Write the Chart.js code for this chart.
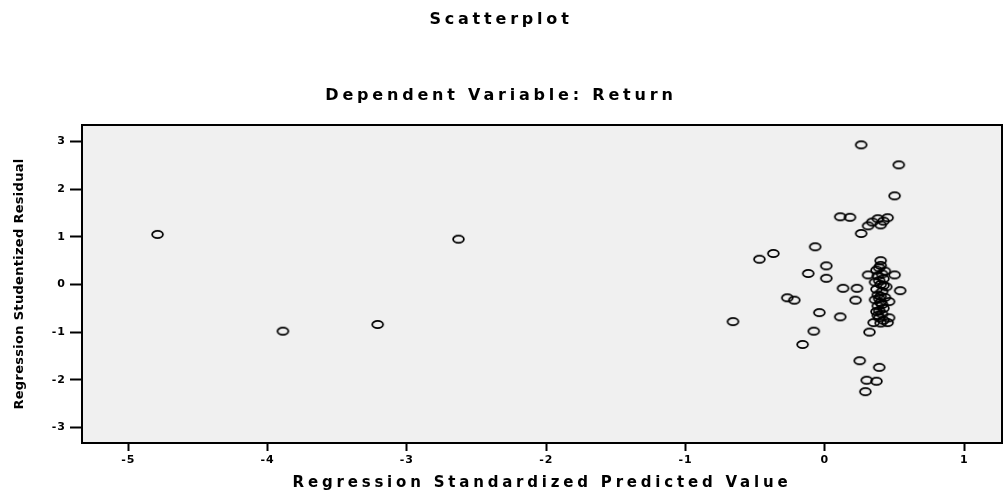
<!DOCTYPE html>
<html>
<head>
<meta charset="utf-8">
<title>Scatterplot</title>
<script src="https://cdn.jsdelivr.net/npm/chart.js@4.4.1/dist/chart.umd.min.js"></script>
<style>
  html, body { margin: 0; padding: 0; background: #fff; }
  canvas { display: block; }
</style>
</head>
<body>
<canvas id="graf" width="1003" height="493"></canvas>
<script>
// x: Regression Standardized Predicted Value, y: Regression Studentized Residual
const predicted = [
  -4.79, -2.63, -3.89, -3.21, -0.66,
  0.26, 0.53, 0.50, 0.11, 0.18, 0.38, 0.45, 0.34, 0.40, 0.31, 0.42,
  0.26, -0.07, -0.37, -0.47, 0.01, -0.12, 0.01, 0.40, 0.31, 0.50,
  0.54, 0.13, 0.23, 0.22, -0.27, -0.22, -0.04, 0.11, -0.08, -0.16,
  0.32, 0.25, 0.39, 0.30, 0.37, 0.29,
  0.40, 0.37, 0.43, 0.38, 0.42, 0.36, 0.40, 0.44, 0.37, 0.41, 0.38, 0.43,
  0.36, 0.40, 0.46, 0.38, 0.42, 0.37, 0.41, 0.46, 0.35, 0.40, 0.45, 0.39,
  0.39, 0.41, 0.39, 0.42, 0.39, 0.41, 0.39, 0.42, 0.38, 0.40
];
const residual = [
  1.05, 0.95, -0.98, -0.84, -0.78,
  2.93, 2.51, 1.86, 1.42, 1.41, 1.38, 1.40, 1.31, 1.25, 1.23, 1.33,
  1.07, 0.79, 0.65, 0.53, 0.39, 0.23, 0.13, 0.50, 0.20, 0.20,
  -0.13, -0.08, -0.08, -0.33, -0.28, -0.33, -0.59, -0.68, -0.98, -1.26,
  -1.00, -1.60, -1.74, -2.01, -2.03, -2.25,
  0.40, 0.30, 0.28, 0.18, 0.12, 0.05, 0.00, -0.05, -0.10, -0.15, -0.22, -0.27,
  -0.32, -0.38, -0.36, -0.45, -0.50, -0.57, -0.62, -0.70, -0.80, -0.81, -0.80, -0.70,
  0.35, 0.22, 0.08, -0.02, -0.30, -0.42, -0.55, -0.75, -0.65, -0.25
];
const xTicks = [-5, -4, -3, -2, -1, 0, 1];
const yTicks = [-3, -2, -1, 0, 1, 2, 3];

const FONT = 'DejaVu Sans';
Chart.defaults.color = '#000';
Chart.defaults.font.family = FONT;

// ringlar som i SPSS (lite utdragna på bredden)
function ringMarker() {
  const c = document.createElement('canvas');
  c.width = 15;
  c.height = 11;
  const g = c.getContext('2d');
  g.lineWidth = 1.8;
  g.strokeStyle = '#000';
  g.beginPath();
  g.ellipse(7.5, 5.5, 5.4, 3.6, 0, 0, Math.PI * 2);
  g.stroke();
  return c;
}

// kör en ritfunktion med annat teckenavstånd
function withSpacing(obj, name, spacing) {
  const orig = obj[name];
  obj[name] = function () {
    const old = this.ctx.letterSpacing;
    this.ctx.letterSpacing = spacing;
    orig.apply(this, arguments);
    this.ctx.letterSpacing = old;
  };
}

// grå plotyta, ram runt och spärrad text
const plotFrame = {
  id: 'plotFrame',
  beforeDraw(chart) {
    const { ctx, chartArea: a } = chart;
    ctx.save();
    ctx.fillStyle = '#f0f0f0';
    ctx.fillRect(a.left, a.top, a.right - a.left, a.bottom - a.top);
    ctx.restore();
    ctx.letterSpacing = '3.8px';
    const { x, y } = chart.scales;
    if (!y._patched) {
      withSpacing(y, 'drawTitle', '0.3px');
      withSpacing(y, 'drawLabels', '1px');
      withSpacing(x, 'drawLabels', '1px');
      y._patched = true;
    }
  },
  afterDraw(chart) {
    const { ctx, chartArea: a } = chart;
    ctx.letterSpacing = '0px';
    ctx.save();
    ctx.strokeStyle = '#000';
    ctx.lineWidth = 2;
    ctx.strokeRect(a.left, a.top, a.right - a.left, a.bottom - a.top);
    ctx.restore();
  }
};

const graf = document.getElementById('graf');
new Chart(graf, {
  type: 'scatter',
  data: {
    datasets: [{
      data: predicted.map((x, i) => ({ x: x, y: residual[i] })),
      pointStyle: ringMarker(),
      pointRadius: 5,
      pointHoverRadius: 5
    }]
  },
  options: {
    responsive: false,
    animation: false,
    devicePixelRatio: 1,
    layout: { autoPadding: false, padding: { right: 1 } },
    plugins: {
      legend: { display: false },
      tooltip: { enabled: false },
      title: {
        display: true,
        text: 'Scatterplot',
        font: { size: 16, weight: 'bold' },
        padding: { top: 10, bottom: 56.7 }
      },
      subtitle: {
        display: true,
        text: 'Dependent Variable: Return',
        font: { size: 16, weight: 'bold' },
        padding: { top: 0, bottom: 19.9 }
      }
    },
    scales: {
      x: {
        type: 'linear',
        min: -5.332,
        max: 1.271,
        afterFit: s => { s.height = 50; s.paddingLeft = 0; s.paddingRight = 0; },
        afterBuildTicks: s => { s.ticks = xTicks.map(v => ({ value: v })); },
        border: { display: false },
        grid: { drawOnChartArea: false, drawTicks: true, tickLength: 8, tickColor: '#000', tickWidth: 2 },
        ticks: { font: { size: 11, weight: 'bold' }, padding: 3, maxRotation: 0 },
        title: {
          display: true,
          text: 'Regression Standardized Predicted Value',
          font: { size: 15, weight: 'bold' },
          padding: { top: 0, bottom: 1 }
        }
      },
      y: {
        type: 'linear',
        min: -3.327,
        max: 3.346,
        afterFit: s => { s.width = 82; s.paddingTop = 0; s.paddingBottom = 0; },
        afterBuildTicks: s => { s.ticks = yTicks.map(v => ({ value: v })); },
        border: { display: false },
        grid: { drawOnChartArea: false, drawTicks: true, tickLength: 12, tickColor: '#000', tickWidth: 2 },
        ticks: { font: { size: 11, weight: 'bold' }, padding: 4 },
        title: {
          display: true,
          text: 'Regression Studentized Residual',
          font: { size: 13, weight: 'bold' },
          padding: { top: 12, bottom: 0 }
        }
      }
    }
  },
  plugins: [plotFrame]
});
</script>
</body>
</html>
